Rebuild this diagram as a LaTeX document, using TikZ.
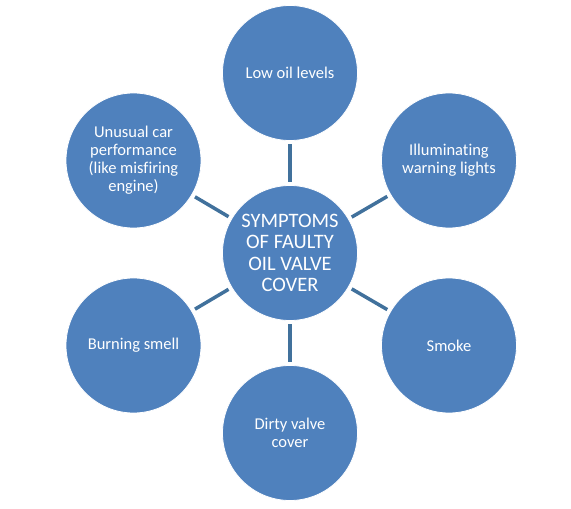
\documentclass[tikz,border=0pt]{standalone}
\usepackage{fontspec}
\setmainfont{Carlito}[Ligatures=NoCommon]
\definecolor{circfill}{HTML}{4F81BD}
\definecolor{linkcol}{HTML}{41719C}
\begin{document}
\begin{tikzpicture}[x=1pt,y=1pt,
  outer/.style={circle,fill=circfill,draw=white,line width=0.8pt,minimum size=135pt,inner sep=0pt,text=white,align=center,font=\fontsize{16.5}{18}\selectfont},
  hub/.style={circle,fill=circfill,draw=white,line width=0.8pt,minimum size=135pt,inner sep=0pt,text=white,align=center,font=\fontsize{20.5}{21.5}\selectfont},
  link/.style={draw=linkcol,line width=3.5pt,shorten <=3.5pt,shorten >=3.5pt}]
\useasboundingbox (0,0) rectangle (571,509);
\node[hub] (c) at (290,256) {SYMPTOMS\\OF FAULTY\\OIL VALVE\\COVER};
\node[outer] (t) at (290,436) {Low oil levels};
\node[outer] (ur) at (449,348.5) {Illuminating\\warning lights};
\node[outer] (lr) at (449,163.5) {Smoke};
\node[outer] (b) at (290,76) {Dirty valve\\cover};
\node[outer] (ll) at (133.5,163.5) {Burning smell};
\node[outer] (ul) at (133.5,348.5) {Unusual car\\performance\\(like misfiring\\engine)};
\foreach \n in {t,ur,lr,b,ll,ul}{\path[link] (c) -- (\n);}
\end{tikzpicture}
\end{document}
